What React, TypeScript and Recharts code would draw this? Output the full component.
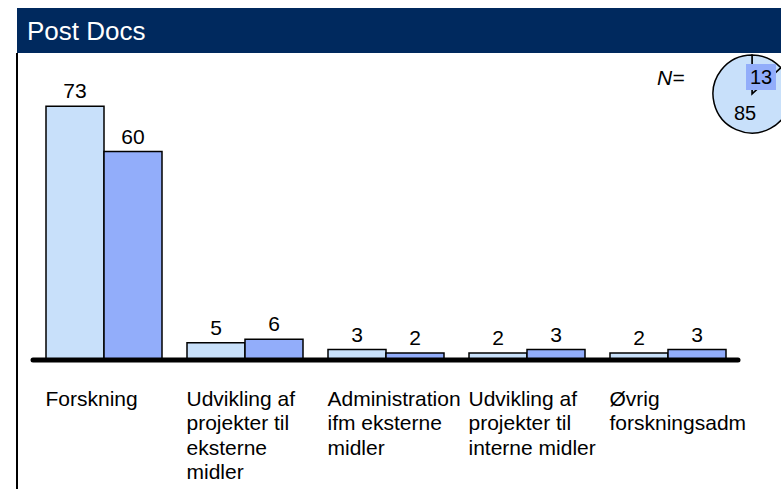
import React from 'react';
import { BarChart, Bar, XAxis, YAxis, LabelList, PieChart, Pie, Cell } from 'recharts';

const categories = [
  ['Forskning'],
  ['Udvikling af', 'projekter til', 'eksterne', 'midler'],
  ['Administration', 'ifm eksterne', 'midler'],
  ['Udvikling af', 'projekter til', 'interne midler'],
  ['Øvrig', 'forskningsadm'],
];
const seriesA = [73, 5, 3, 2, 2];
const seriesB = [60, 6, 2, 3, 3];
const pieValues = [13, 85];

const LIGHT = '#c8e0fa';
const DARK = '#92adfa';
const FONT = '"Liberation Sans", Arial, sans-serif';

const data = categories.map((lines, i) => ({ name: lines.join(' '), a: seriesA[i], b: seriesB[i] }));
const pieData = pieValues.map((v, i) => ({ name: `s${i}`, value: v }));

const CategoryTick = (props: any) => {
  const { x, y, payload } = props;
  const lines = categories[payload.index] ?? [payload.value];
  return (
    <text x={x - 58} y={y + 38} fontSize={21} fontFamily={FONT} fill="#000" textAnchor="start">
      {lines.map((l, i) => (
        <tspan key={i} x={x - 58} dy={i === 0 ? 0 : 24.3}>
          {l}
        </tspan>
      ))}
    </text>
  );
};

const PieLabel = (props: any) => {
  const { cx, cy, index, value } = props;
  if (index === 0) {
    const lx = cx + 9;
    const ly = cy - 17;
    return (
      <g>
        <rect x={lx - 15} y={ly - 13} width={30} height={26} fill={DARK} />
        <text x={lx} y={ly + 7} fontSize={20} fontFamily={FONT} textAnchor="middle" fill="#000">
          {value}
        </text>
      </g>
    );
  }
  return (
    <text x={cx - 7} y={cy + 26} fontSize={20} fontFamily={FONT} textAnchor="middle" fill="#000">
      {value}
    </text>
  );
};

export default function App() {
  return (
    <div style={{ position: 'absolute', left: 0, top: 0, width: 781, height: 489, background: '#fff', overflow: 'hidden' }}>
      <div style={{ position: 'absolute', left: 16, top: 53, width: 2, height: 436, background: '#000' }} />
      <div
        style={{
          position: 'absolute',
          left: 657,
          top: 66,
          fontFamily: FONT,
          fontSize: 21,
          fontStyle: 'italic',
          lineHeight: '24px',
        }}
      >
        N=
      </div>
      <div style={{ position: 'absolute', left: 0, top: 0 }}>
        <BarChart
          width={781}
          height={489}
          data={data}
          margin={{ top: 82, right: 43, left: 33, bottom: 0 }}
          barGap={0}
          barSize={58}
        >
          <YAxis hide domain={[0, 80]} />
          <XAxis
            dataKey="name"
            axisLine={{ stroke: '#000', strokeWidth: 5, strokeLinecap: 'round' }}
            tickLine={false}
            tick={<CategoryTick />}
            interval={0}
            height={129}
          />
          <Bar dataKey="a" fill={LIGHT} stroke="#000" strokeWidth={1.5} isAnimationActive={false}>
            <LabelList dataKey="a" position="top" offset={8} fontSize={21} fontFamily={FONT} fill="#000" />
          </Bar>
          <Bar dataKey="b" fill={DARK} stroke="#000" strokeWidth={1.5} isAnimationActive={false}>
            <LabelList dataKey="b" position="top" offset={8} fontSize={21} fontFamily={FONT} fill="#000" />
          </Bar>
        </BarChart>
      </div>
      <div style={{ position: 'absolute', left: 697, top: 39 }}>
        <PieChart width={100} height={100}>
          <Pie
            data={pieData}
            dataKey="value"
            cx={50}
            cy={50}
            outerRadius={39}
            startAngle={90}
            endAngle={-270}
            stroke="#000"
            strokeWidth={1.5}
            label={<PieLabel />}
            labelLine={false}
            isAnimationActive={false}
          >
            {pieData.map((d) => (
              <Cell key={d.name} fill={LIGHT} />
            ))}
          </Pie>
        </PieChart>
      </div>
      <div
        style={{
          position: 'absolute',
          left: 17,
          top: 8,
          width: 764,
          height: 45,
          background: '#00295e',
          color: '#fff',
          fontFamily: FONT,
          fontSize: 26,
          lineHeight: '47px',
          paddingLeft: 10,
          boxSizing: 'border-box',
        }}
      >
        Post Docs
      </div>
    </div>
  );
}
